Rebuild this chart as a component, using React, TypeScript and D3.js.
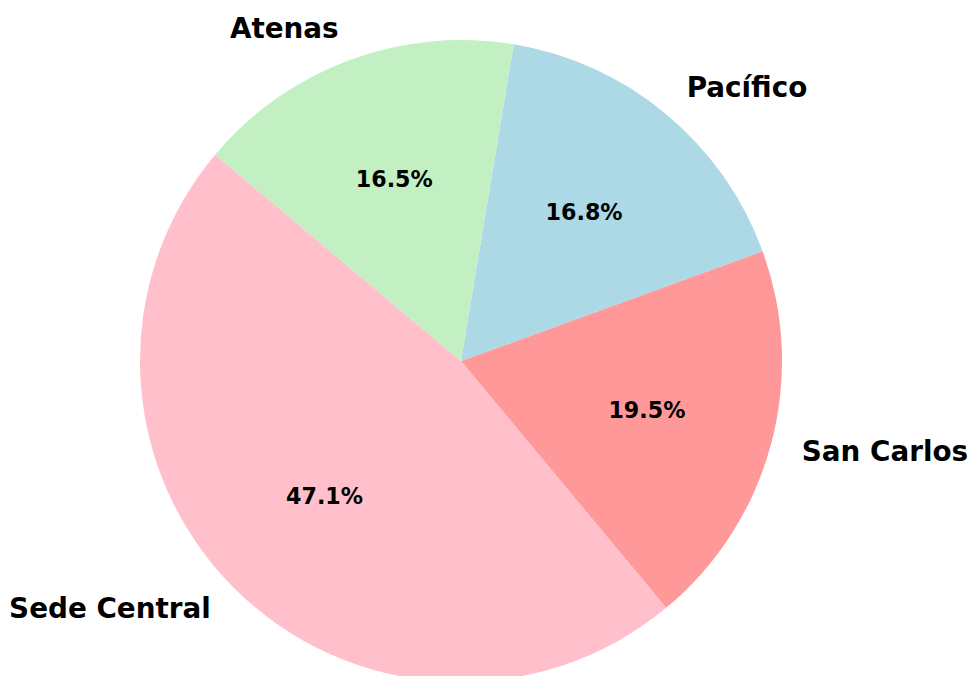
import { useEffect, useRef } from "react";
import * as d3 from "d3";

const sedes = ["Sede Central", "San Carlos", "Pacífico", "Atenas"];
const porcentajes = [47.1, 19.5, 16.8, 16.5];
const colores = ["#ffc0cb", "#ff9999", "#add8e6", "#c2f0c2"];

const width = 972;
const height = 676;

export default function App() {
  const svgRef = useRef<SVGSVGElement | null>(null);

  useEffect(() => {
    const svg = d3.select(svgRef.current);
    svg.selectAll("*").remove();

    const cx = 461;
    const cy = 361;
    const radius = 321;
    const total = d3.sum(porcentajes);

    // matplotlib startangle=140, counterclockwise
    const start = ((90 - 140) * Math.PI) / 180;
    const pie = d3
      .pie<number>()
      .sort(null)
      .value((d) => d)
      .startAngle(start)
      .endAngle(start - 2 * Math.PI);

    const arcs = pie(porcentajes);
    const arc = d3.arc<d3.PieArcDatum<number>>().innerRadius(0).outerRadius(radius);

    const g = svg.append("g").attr("transform", `translate(${cx},${cy})`);

    g.selectAll("path.slice")
      .data(arcs)
      .join("path")
      .attr("class", "slice")
      .attr("d", arc)
      .attr("fill", (_, i) => colores[i]);

    const mid = (d: d3.PieArcDatum<number>) => (d.startAngle + d.endAngle) / 2;

    g.selectAll("text.label")
      .data(arcs)
      .join("text")
      .attr("class", "label")
      .attr("x", (d) => Math.sin(mid(d)) * radius * 1.1)
      .attr("y", (d) => -Math.cos(mid(d)) * radius * 1.1 - 1.5)
      .attr("text-anchor", (d) => (Math.sin(mid(d)) < 0 ? "end" : "start"))
      .attr("dominant-baseline", "central")
      .attr("font-family", "DejaVu Sans")
      .attr("font-weight", "bold")
      .attr("font-size", 27.8)
      .attr("fill", "black")
      .text((_, i) => sedes[i]);

    g.selectAll("text.pct")
      .data(arcs)
      .join("text")
      .attr("class", "pct")
      .attr("x", (d) => Math.sin(mid(d)) * radius * 0.6)
      .attr("y", (d) => -Math.cos(mid(d)) * radius * 0.6 - 1)
      .attr("text-anchor", "middle")
      .attr("dominant-baseline", "central")
      .attr("font-family", "DejaVu Sans")
      .attr("font-weight", "bold")
      .attr("font-size", 22.2)
      .attr("fill", "black")
      .text((d) => `${((d.data / total) * 100).toFixed(1)}%`);
  }, []);

  return (
    <svg
      ref={svgRef}
      width={width}
      height={height}
      style={{ position: "absolute", left: 0, top: 0, background: "white" }}
    />
  );
}
